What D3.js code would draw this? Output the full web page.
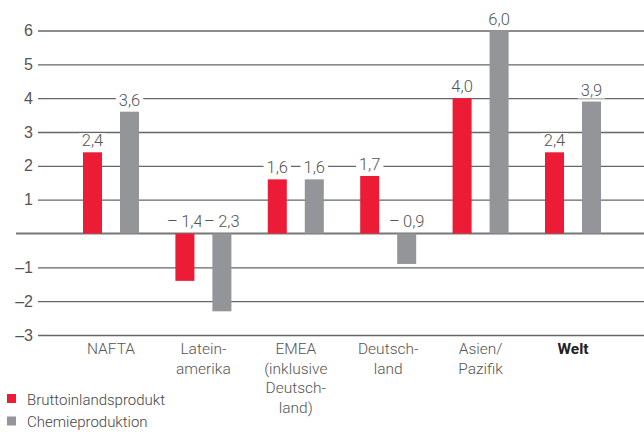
<!DOCTYPE html>
<html>
<head>
<meta charset="utf-8">
<script src="https://cdn.jsdelivr.net/npm/d3@7"></script>
<style>
  body { margin: 0; background: #fff; }
  svg { display: block; font-family: Roboto, 'Liberation Sans', sans-serif; font-weight: 300; }
  .tick text { fill: #555; font-size: 16px; }
</style>
</head>
<body>
<script>
// chart data
const categories = [
  ['NAFTA'],
  ['Latein-', 'amerika'],
  ['EMEA', '(inklusive', 'Deutsch-', 'land)'],
  ['Deutsch-', 'land'],
  ['Asien/', 'Pazifik'],
  ['Welt'],
]
const gdp = [2.4, -1.4, 1.6, 1.7, 4.0, 2.4]
const chem = [3.6, -2.3, 1.6, -0.9, 6.0, 3.9]
const yTicks = [-3, -2, -1, 0, 1, 2, 3, 4, 5, 6]
const seriesNames = ['Bruttoinlandsprodukt', 'Chemieproduktion']
const seriesColors = ['#ed1c36', '#939598']

const WIDTH = 644
const HEIGHT = 432

const svg = d3.select('body')
  .append('svg')
  .attr('width', WIDTH)
  .attr('height', HEIGHT)

const y = d3.scaleLinear()
  .domain([-3, 6])
  .range([335, 30.5])

const x = d3.scaleBand()
  .domain(d3.range(categories.length))
  .range([64.8, 619.2])

const xInner = d3.scaleBand()
  .domain([0, 1])
  .range([18.2, 74.2])
  .paddingInner(0.486)

const valueFmt = v => (v < 0 ? '\u2013\u2009' : '') + d3.format('.1f')(Math.abs(v)).replace('.', ',')
const tickFmt = v => (v < 0 ? '\u2013' : '') + Math.abs(v)

// grid + y labels
const yAxis = svg.append('g')
  .attr('transform', 'translate(38,0)')
  .call(d3.axisLeft(y)
    .tickValues(yTicks.filter(d => d !== 0))
    .tickSize(-(WIDTH - 38))
    .tickPadding(5)
    .tickFormat(tickFmt))

yAxis.select('.domain').remove()
yAxis.selectAll('.tick line')
  .attr('stroke', '#666')
  .attr('stroke-width', 1.3)

// zero line
svg.append('line')
  .attr('x1', 16)
  .attr('x2', WIDTH)
  .attr('y1', y(0))
  .attr('y2', y(0))
  .attr('stroke', '#777')
  .attr('stroke-width', 2)

const rows = categories.map((c, i) => [gdp[i], chem[i]])

const groups = svg.append('g')
  .selectAll('g')
  .data(rows)
  .enter()
  .append('g')
  .attr('transform', (d, i) => `translate(${x(i)},0)`)

groups.selectAll('rect')
  .data(d => d)
  .enter()
  .append('rect')
  .attr('x', (d, j) => xInner(j))
  .attr('width', xInner.bandwidth())
  .attr('y', d => y(Math.max(0, d)))
  .attr('height', d => Math.abs(y(d) - y(0)))
  .attr('fill', (d, j) => seriesColors[j])

// value labels with a white knock-out behind them
const labels = groups.selectAll('g.val')
  .data(d => d)
  .enter()
  .append('g')
  .attr('class', 'val')

labels.append('text')
  .attr('x', (d, j) => xInner(j) + xInner.bandwidth() / 2)
  .attr('y', d => d >= 0 ? y(d) - 6 : y(0) - 7)
  .attr('text-anchor', 'middle')
  .attr('font-size', 16.5)
  .attr('fill', '#555')
  .text(valueFmt)

labels.each(function() {
  const g = d3.select(this)
  const b = g.select('text').node().getBBox()
  g.insert('rect', 'text')
    .attr('x', b.x - 3)
    .attr('y', b.y + 2)
    .attr('width', b.width + 6)
    .attr('height', b.height - 3)
    .attr('fill', '#fff')
})

// category labels
const catLabels = svg.append('g')
  .selectAll('text')
  .data(categories)
  .enter()
  .append('text')
  .attr('x', (d, i) => x(i) + x.bandwidth() / 2)
  .attr('y', 354)
  .attr('text-anchor', 'middle')
  .attr('font-size', 15.5)
  .attr('fill', (d, i) => i === categories.length - 1 ? '#222' : '#555')
  .attr('font-weight', (d, i) => i === categories.length - 1 ? 700 : 300)

catLabels.selectAll('tspan')
  .data(d => d)
  .enter()
  .append('tspan')
  .attr('x', function() { return d3.select(this.parentNode).attr('x') })
  .attr('dy', (d, k) => k === 0 ? 0 : 19.7)
  .text(d => d)

// legend
const legend = svg.append('g')
  .selectAll('g')
  .data(seriesNames)
  .enter()
  .append('g')
  .attr('transform', (d, i) => `translate(7,${394 + i * 22.5})`)

legend.append('rect')
  .attr('width', 9)
  .attr('height', 9)
  .attr('fill', (d, i) => seriesColors[i])

legend.append('text')
  .attr('x', 20)
  .attr('y', 10.5)
  .attr('font-size', 15)
  .attr('fill', '#444')
  .text(d => d)
</script>
</body>
</html>
